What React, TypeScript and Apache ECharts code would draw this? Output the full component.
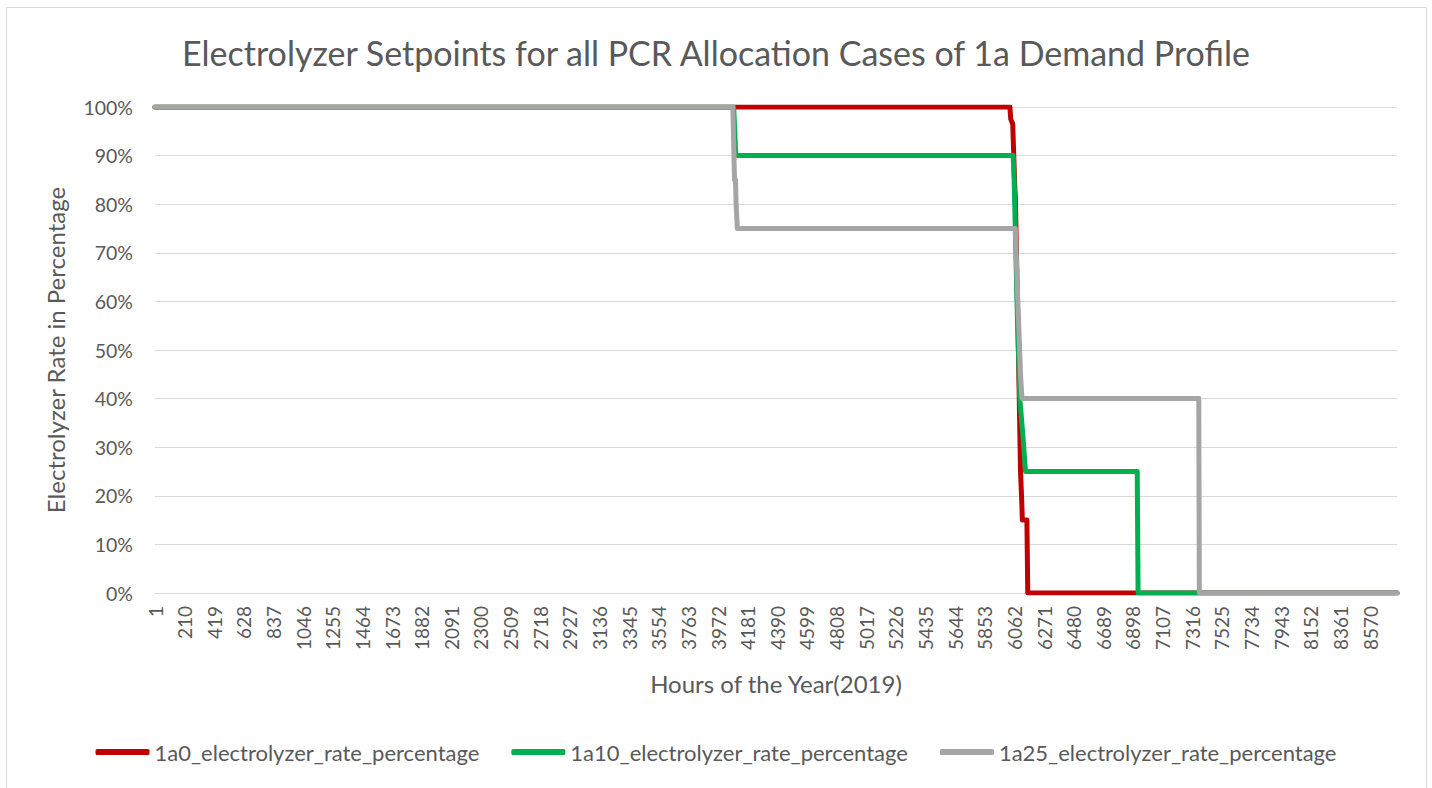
import React, { useEffect, useRef } from "react";
import * as echarts from "echarts";

const seriesNames = [
  "1a0_electrolyzer_rate_percentage",
  "1a10_electrolyzer_rate_percentage",
  "1a25_electrolyzer_rate_percentage",
];
const seriesColors = ["#C00000", "#00B050", "#A5A5A5"];

// [hour, rate %] breakpoints of the sorted (duration-curve) setpoints
const red1a0: [number, number][] = [
  [1, 100], [6030, 100], [6036, 97.5], [6050, 96.5], [6065, 83], [6068, 82],
  [6090, 50], [6105, 25], [6112, 20], [6118, 15], [6150, 15], [6156, 0], [8760, 0],
];
const green1a10: [number, number][] = [
  [1, 100], [4082, 100], [4097, 90], [6053, 90], [6060, 85], [6080, 60],
  [6100, 40], [6120, 33], [6140, 25], [6928, 25], [6934, 0], [8760, 0],
];
const gray1a25: [number, number][] = [
  [1, 100], [4076, 100], [4088, 85], [4095, 85], [4099, 80], [4103, 80],
  [4108, 75], [6068, 75], [6080, 65], [6105, 45], [6115, 40], [7362, 40],
  [7366, 0], [8760, 0],
];
const seriesData = [red1a0, green1a10, gray1a25];

const xTickStep = 209;
const yTicks = [0, 10, 20, 30, 40, 50, 60, 70, 80, 90, 100];

const FONT = "Lato";
const TXT = "#595959";

export default function App() {
  const ref = useRef<HTMLDivElement>(null);
  useEffect(() => {
    if (!ref.current) return;
    const chart = echarts.init(ref.current, undefined, { renderer: "svg" });
    chart.setOption({
      animation: false,
      backgroundColor: "#ffffff",
      textStyle: { fontFamily: FONT, color: TXT },
      graphic: [
        {
          type: "rect",
          shape: { x: 6.5, y: 7.5, width: 1420, height: 800 },
          style: { fill: "none", stroke: "#D9D9D9", lineWidth: 1 },
          silent: true,
        },
      ],
      title: {
        text: "Electrolyzer Setpoints for all PCR Allocation Cases of 1a Demand Profile",
        left: "center",
        top: 30,
        textStyle: { fontFamily: FONT, fontSize: 34, fontWeight: "normal", color: TXT },
      },
      legend: {
        bottom: 20,
        left: "center",
        itemGap: 32,
        itemWidth: 54,
        itemHeight: 6,
        icon: "roundRect",
        textStyle: { fontFamily: FONT, fontSize: 22, color: TXT },
        data: seriesNames,
      },
      grid: { left: 155, right: 35, top: 107, bottom: 195 },
      xAxis: {
        type: "value",
        min: 0,
        max: 8759,
        interval: xTickStep,
        name: "Hours of the Year(2019)",
        nameLocation: "middle",
        nameGap: 78,
        nameTextStyle: { fontFamily: FONT, fontSize: 24, color: TXT },
        axisLine: { show: true, lineStyle: { color: "#D9D9D9", width: 1 } },
        axisTick: { show: false },
        splitLine: { show: false },
        axisLabel: {
          rotate: 90,
          margin: 13,
          showMaxLabel: false,
          fontFamily: FONT,
          fontSize: 19,
          color: TXT,
          formatter: (v: number) => String(v + 1),
        },
      },
      yAxis: {
        type: "value",
        min: yTicks[0],
        max: yTicks[yTicks.length - 1],
        interval: 10,
        name: "Electrolyzer Rate in Percentage",
        nameLocation: "middle",
        nameGap: 88,
        nameTextStyle: { fontFamily: FONT, fontSize: 24, color: TXT },
        axisLine: { show: false },
        axisTick: { show: false },
        splitLine: { show: true, lineStyle: { color: "#D9D9D9", width: 1 } },
        axisLabel: {
          margin: 22,
          fontFamily: FONT,
          fontSize: 19.5,
          color: TXT,
          formatter: "{value}%",
        },
      },
      series: seriesNames.map((name, i) => ({
        name,
        type: "line",
        symbol: "none",
        color: seriesColors[i],
        lineStyle: { color: seriesColors[i], width: 5, cap: "round", join: "round" },
        data: seriesData[i].map(([h, v]) => [h - 1, v]),
      })),
    });
    return () => chart.dispose();
  }, []);
  return (
    <div
      ref={ref}
      style={{ position: "fixed", left: 0, top: 0, width: 1432, height: 788 }}
    />
  );
}
